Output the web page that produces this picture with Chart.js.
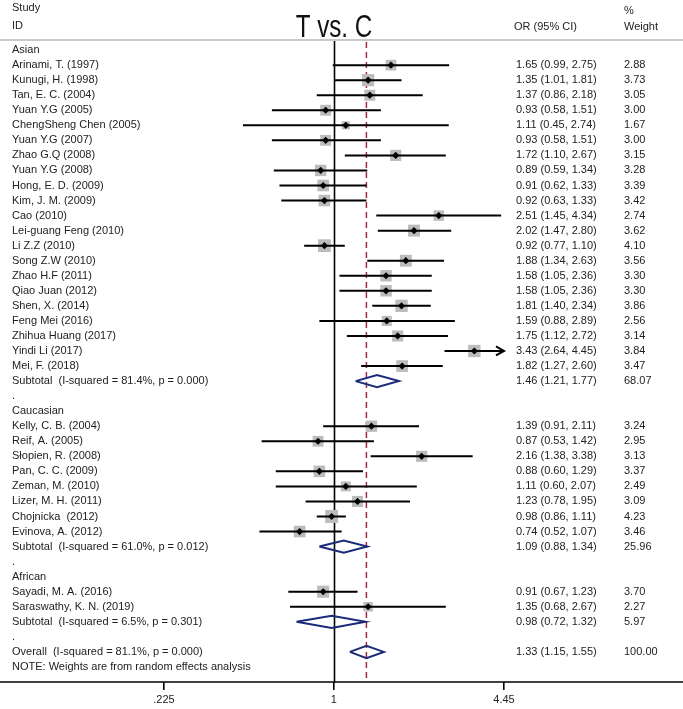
<!DOCTYPE html>
<html>
<head>
<meta charset="utf-8">
<title>T vs. C forest plot</title>
<script src="https://cdn.jsdelivr.net/npm/chart.js@4.4.1/dist/chart.umd.min.js"></script>
<style>
    html, body { margin: 0; padding: 0; background: #ffffff; }
    #wrap { width: 683px; height: 709px; position: relative; }
</style>
</head>
<body>
<div id="wrap"><canvas id="forestChart"></canvas></div>
<script>
/* ==========================================
   Data
========================================== */

// row labels, top to bottom
const studyLabels = [
    "Asian",
    "Arinami, T. (1997)", "Kunugi, H. (1998)", "Tan, E. C. (2004)", "Yuan Y.G (2005)",
    "ChengSheng Chen (2005)", "Yuan Y.G (2007)", "Zhao G.Q (2008)", "Yuan Y.G (2008)",
    "Hong, E. D. (2009)", "Kim, J. M. (2009)", "Cao (2010)", "Lei-guang Feng (2010)",
    "Li Z.Z (2010)", "Song Z.W (2010)", "Zhao H.F (2011)", "Qiao Juan (2012)",
    "Shen, X. (2014)", "Feng Mei (2016)", "Zhihua Huang (2017)", "Yindi Li (2017)",
    "Mei, F. (2018)",
    "Subtotal  (I-squared = 81.4%, p = 0.000)",
    ".",
    "Caucasian",
    "Kelly, C. B. (2004)", "Reif, A. (2005)", "Słopien, R. (2008)", "Pan, C. C. (2009)",
    "Zeman, M. (2010)", "Lizer, M. H. (2011)", "Chojnicka  (2012)", "Evinova, A. (2012)",
    "Subtotal  (I-squared = 61.0%, p = 0.012)",
    ".",
    "African",
    "Sayadi, M. A. (2016)", "Saraswathy, K. N. (2019)",
    "Subtotal  (I-squared = 6.5%, p = 0.301)",
    ".",
    "Overall  (I-squared = 81.1%, p = 0.000)",
    "NOTE: Weights are from random effects analysis"
];

// h = group heading, s = study, p = pooled estimate, t = plain text
const rowKind = [
    "h",
    "s", "s", "s", "s", "s", "s", "s", "s", "s", "s", "s", "s", "s", "s", "s", "s", "s", "s", "s", "s", "s",
    "p", "t",
    "h",
    "s", "s", "s", "s", "s", "s", "s", "s",
    "p", "t",
    "h",
    "s", "s",
    "p", "t",
    "p", "t"
];

const orValues = [
    null,
    1.65, 1.35, 1.37, 0.93, 1.11, 0.93, 1.72, 0.89, 0.91, 0.92, 2.51, 2.02, 0.92, 1.88, 1.58, 1.58, 1.81, 1.59, 1.75, 3.43, 1.82,
    1.46, null,
    null,
    1.39, 0.87, 2.16, 0.88, 1.11, 1.23, 0.98, 0.74,
    1.09, null,
    null,
    0.91, 1.35,
    0.98, null,
    1.33, null
];

const lowerCI = [
    null,
    0.99, 1.01, 0.86, 0.58, 0.45, 0.58, 1.10, 0.59, 0.62, 0.63, 1.45, 1.47, 0.77, 1.34, 1.05, 1.05, 1.40, 0.88, 1.12, 2.64, 1.27,
    1.21, null,
    null,
    0.91, 0.53, 1.38, 0.60, 0.60, 0.78, 0.86, 0.52,
    0.88, null,
    null,
    0.67, 0.68,
    0.72, null,
    1.15, null
];

const upperCI = [
    null,
    2.75, 1.81, 2.18, 1.51, 2.74, 1.51, 2.67, 1.34, 1.33, 1.33, 4.34, 2.80, 1.10, 2.63, 2.36, 2.36, 2.34, 2.89, 2.72, 4.45, 2.60,
    1.77, null,
    null,
    2.11, 1.42, 3.38, 1.29, 2.07, 1.95, 1.11, 1.07,
    1.34, null,
    null,
    1.23, 2.67,
    1.32, null,
    1.55, null
];

const weights = [
    null,
    2.88, 3.73, 3.05, 3.00, 1.67, 3.00, 3.15, 3.28, 3.39, 3.42, 2.74, 3.62, 4.10, 3.56, 3.30, 3.30, 3.86, 2.56, 3.14, 3.84, 3.47,
    68.07, null,
    null,
    3.24, 2.95, 3.13, 3.37, 2.49, 3.09, 4.23, 3.46,
    25.96, null,
    null,
    3.70, 2.27,
    5.97, null,
    100.00, null
];

// x axis
const xMin = 0.225;
const xMax = 4.45;
const xTickValues = [0.225, 1, 4.45];
const xTickLabels = [".225", "1", "4.45"];
const overallOR = 1.33;

/* ==========================================
   Style
========================================== */

const FONT = "'Liberation Sans', Arial, Helvetica, sans-serif";
const TEXT_COLOR = "#222222";
const NAVY = "#1b2a7a";
const DASH_RED = "#9c2a3c";
const SQUARE_GRAY = "#bcbcbc";
const DIAMOND_HALF = 0.41;   // in rows

/* ==========================================
   Build datasets from the arrays
========================================== */

const markerPts = [];
const squarePts = [];
const ciPts = [];
const diamondPts = [];
const gap = { x: NaN, y: NaN };

studyLabels.forEach(function (label, i) {
    if (rowKind[i] === "s") {
        markerPts.push({ x: orValues[i], y: i });
        squarePts.push({ x: orValues[i], y: i, w: weights[i] });
        ciPts.push({ x: lowerCI[i], y: i });
        ciPts.push({ x: Math.min(upperCI[i], xMax), y: i });
        ciPts.push(gap);
    } else if (rowKind[i] === "p") {
        diamondPts.push({ x: lowerCI[i], y: i });
        diamondPts.push({ x: orValues[i], y: i - DIAMOND_HALF });
        diamondPts.push({ x: upperCI[i], y: i });
        diamondPts.push({ x: orValues[i], y: i + DIAMOND_HALF });
        diamondPts.push({ x: lowerCI[i], y: i });
        diamondPts.push(gap);
    }
});

/* ==========================================
   Plugin : reference lines, arrows, text
========================================== */

const forestDecor = {
    id: "forestDecor",

    beforeDatasetsDraw(chart) {
        const ctx = chart.ctx;
        const xs = chart.scales.x;
        const area = chart.chartArea;

        ctx.save();

        // header rule
        ctx.strokeStyle = "#c9c9c9";
        ctx.lineWidth = 2;
        ctx.beginPath();
        ctx.moveTo(0, area.top);
        ctx.lineTo(chart.width, area.top);
        ctx.stroke();

        // null line
        const x1 = Math.round(xs.getPixelForValue(1)) + 0.5;
        ctx.strokeStyle = "#000000";
        ctx.lineWidth = 1.6;
        ctx.beginPath();
        ctx.moveTo(x1, area.top + 1);
        ctx.lineTo(x1, area.bottom);
        ctx.stroke();

        // overall estimate
        const xo = xs.getPixelForValue(overallOR);
        ctx.strokeStyle = DASH_RED;
        ctx.lineWidth = 1.5;
        ctx.setLineDash([6, 4]);
        ctx.beginPath();
        ctx.moveTo(xo, area.top + 2);
        ctx.lineTo(xo, area.bottom);
        ctx.stroke();
        ctx.setLineDash([]);

        // bottom axis rule across the whole figure
        ctx.strokeStyle = "#000000";
        ctx.lineWidth = 1.6;
        ctx.beginPath();
        ctx.moveTo(0, area.bottom);
        ctx.lineTo(chart.width, area.bottom);
        ctx.stroke();

        ctx.restore();
    },

    afterDatasetsDraw(chart) {
        const ctx = chart.ctx;
        const xs = chart.scales.x;
        const ys = chart.scales.y;

        ctx.save();

        // arrow heads where the interval runs past the axis
        ctx.strokeStyle = "#000000";
        ctx.lineWidth = 2;
        studyLabels.forEach(function (label, i) {
            if (rowKind[i] === "s" && upperCI[i] >= xMax) {
                const tx = xs.getPixelForValue(xMax);
                const ty = ys.getPixelForValue(i);
                ctx.beginPath();
                ctx.moveTo(tx - 8, ty - 4.5);
                ctx.lineTo(tx, ty);
                ctx.lineTo(tx - 8, ty + 4.5);
                ctx.stroke();
            }
        });

        // title (narrow face, squeezed horizontally)
        ctx.save();
        ctx.fillStyle = "#111111";
        ctx.textBaseline = "alphabetic";
        ctx.textAlign = "center";
        ctx.font = "31px " + FONT;
        ctx.translate(xs.getPixelForValue(1), 37);
        ctx.scale(0.78, 1);
        ctx.fillText("T vs. C", 0, 0);
        ctx.restore();

        // column headings
        ctx.fillStyle = TEXT_COLOR;
        ctx.font = "11px " + FONT;
        ctx.textAlign = "left";
        ctx.textBaseline = "middle";
        ctx.fillText("Study", 12, 8);
        ctx.fillText("ID", 12, 26);
        ctx.fillText("OR (95% CI)", 514, 27);
        ctx.fillText("%", 624, 11);
        ctx.fillText("Weight", 624, 27);

        // rows
        studyLabels.forEach(function (label, i) {
            const y = ys.getPixelForValue(i);
            ctx.fillText(label, 12, y);
            if (orValues[i] !== null) {
                const ci = orValues[i].toFixed(2) + " (" + lowerCI[i].toFixed(2) + ", " + upperCI[i].toFixed(2) + ")";
                ctx.fillText(ci, 516, y);
                ctx.fillText(weights[i].toFixed(2), 624, y);
            }
        });

        ctx.restore();
    }
};

/* ==========================================
   Chart
========================================== */

let forestChart = null;

document.addEventListener("DOMContentLoaded", function () {

    const ctx = document.getElementById("forestChart");

    forestChart = new Chart(ctx, {

        type: "scatter",

        data: {
            datasets: [
                {
                    // black point estimate
                    data: markerPts,
                    pointStyle: "rectRot",
                    pointRadius: 3.6,
                    pointBackgroundColor: "#000000",
                    pointBorderWidth: 0,
                    order: 0
                },
                {
                    // confidence intervals
                    data: ciPts,
                    showLine: true,
                    borderColor: "#000000",
                    borderWidth: 2,
                    pointRadius: 0,
                    spanGaps: false,
                    order: 1
                },
                {
                    // pooled diamonds
                    data: diamondPts,
                    showLine: true,
                    borderColor: NAVY,
                    borderWidth: 2,
                    borderJoinStyle: "miter",
                    pointRadius: 0,
                    spanGaps: false,
                    order: 2
                },
                {
                    // weight boxes
                    data: squarePts,
                    pointStyle: "rect",
                    pointRadius: function (c) {
                        return c.raw ? 4.45 * Math.sqrt(c.raw.w) : 0;
                    },
                    pointBackgroundColor: SQUARE_GRAY,
                    pointBorderWidth: 0,
                    order: 3
                }
            ]
        },

        options: {
            responsive: true,
            maintainAspectRatio: false,
            animation: false,
            events: [],
            layout: {
                padding: { left: 164, right: 179, top: 40, bottom: 0 }
            },
            plugins: {
                legend: { display: false },
                tooltip: { enabled: false }
            },
            scales: {
                x: {
                    type: "logarithmic",
                    min: xMin,
                    max: xMax,
                    afterBuildTicks: function (scale) {
                        scale.ticks = xTickValues.map(v => ({ value: v }));
                    },
                    afterFit: function (scale) {
                        scale.height = 27;
                    },
                    border: { display: false },
                    grid: {
                        drawOnChartArea: false,
                        drawTicks: true,
                        tickLength: 8,
                        color: "#000000",
                        lineWidth: 1.6
                    },
                    ticks: {
                        autoSkip: false,
                        maxRotation: 0,
                        padding: 3,
                        color: TEXT_COLOR,
                        font: { family: FONT, size: 11 },
                        callback: function (value, index) {
                            return xTickLabels[index];
                        }
                    }
                },
                y: {
                    type: "linear",
                    display: false,
                    reverse: true,
                    min: -0.67,
                    max: 42
                }
            }
        },

        plugins: [forestDecor]

    });

});
</script>
</body>
</html>
